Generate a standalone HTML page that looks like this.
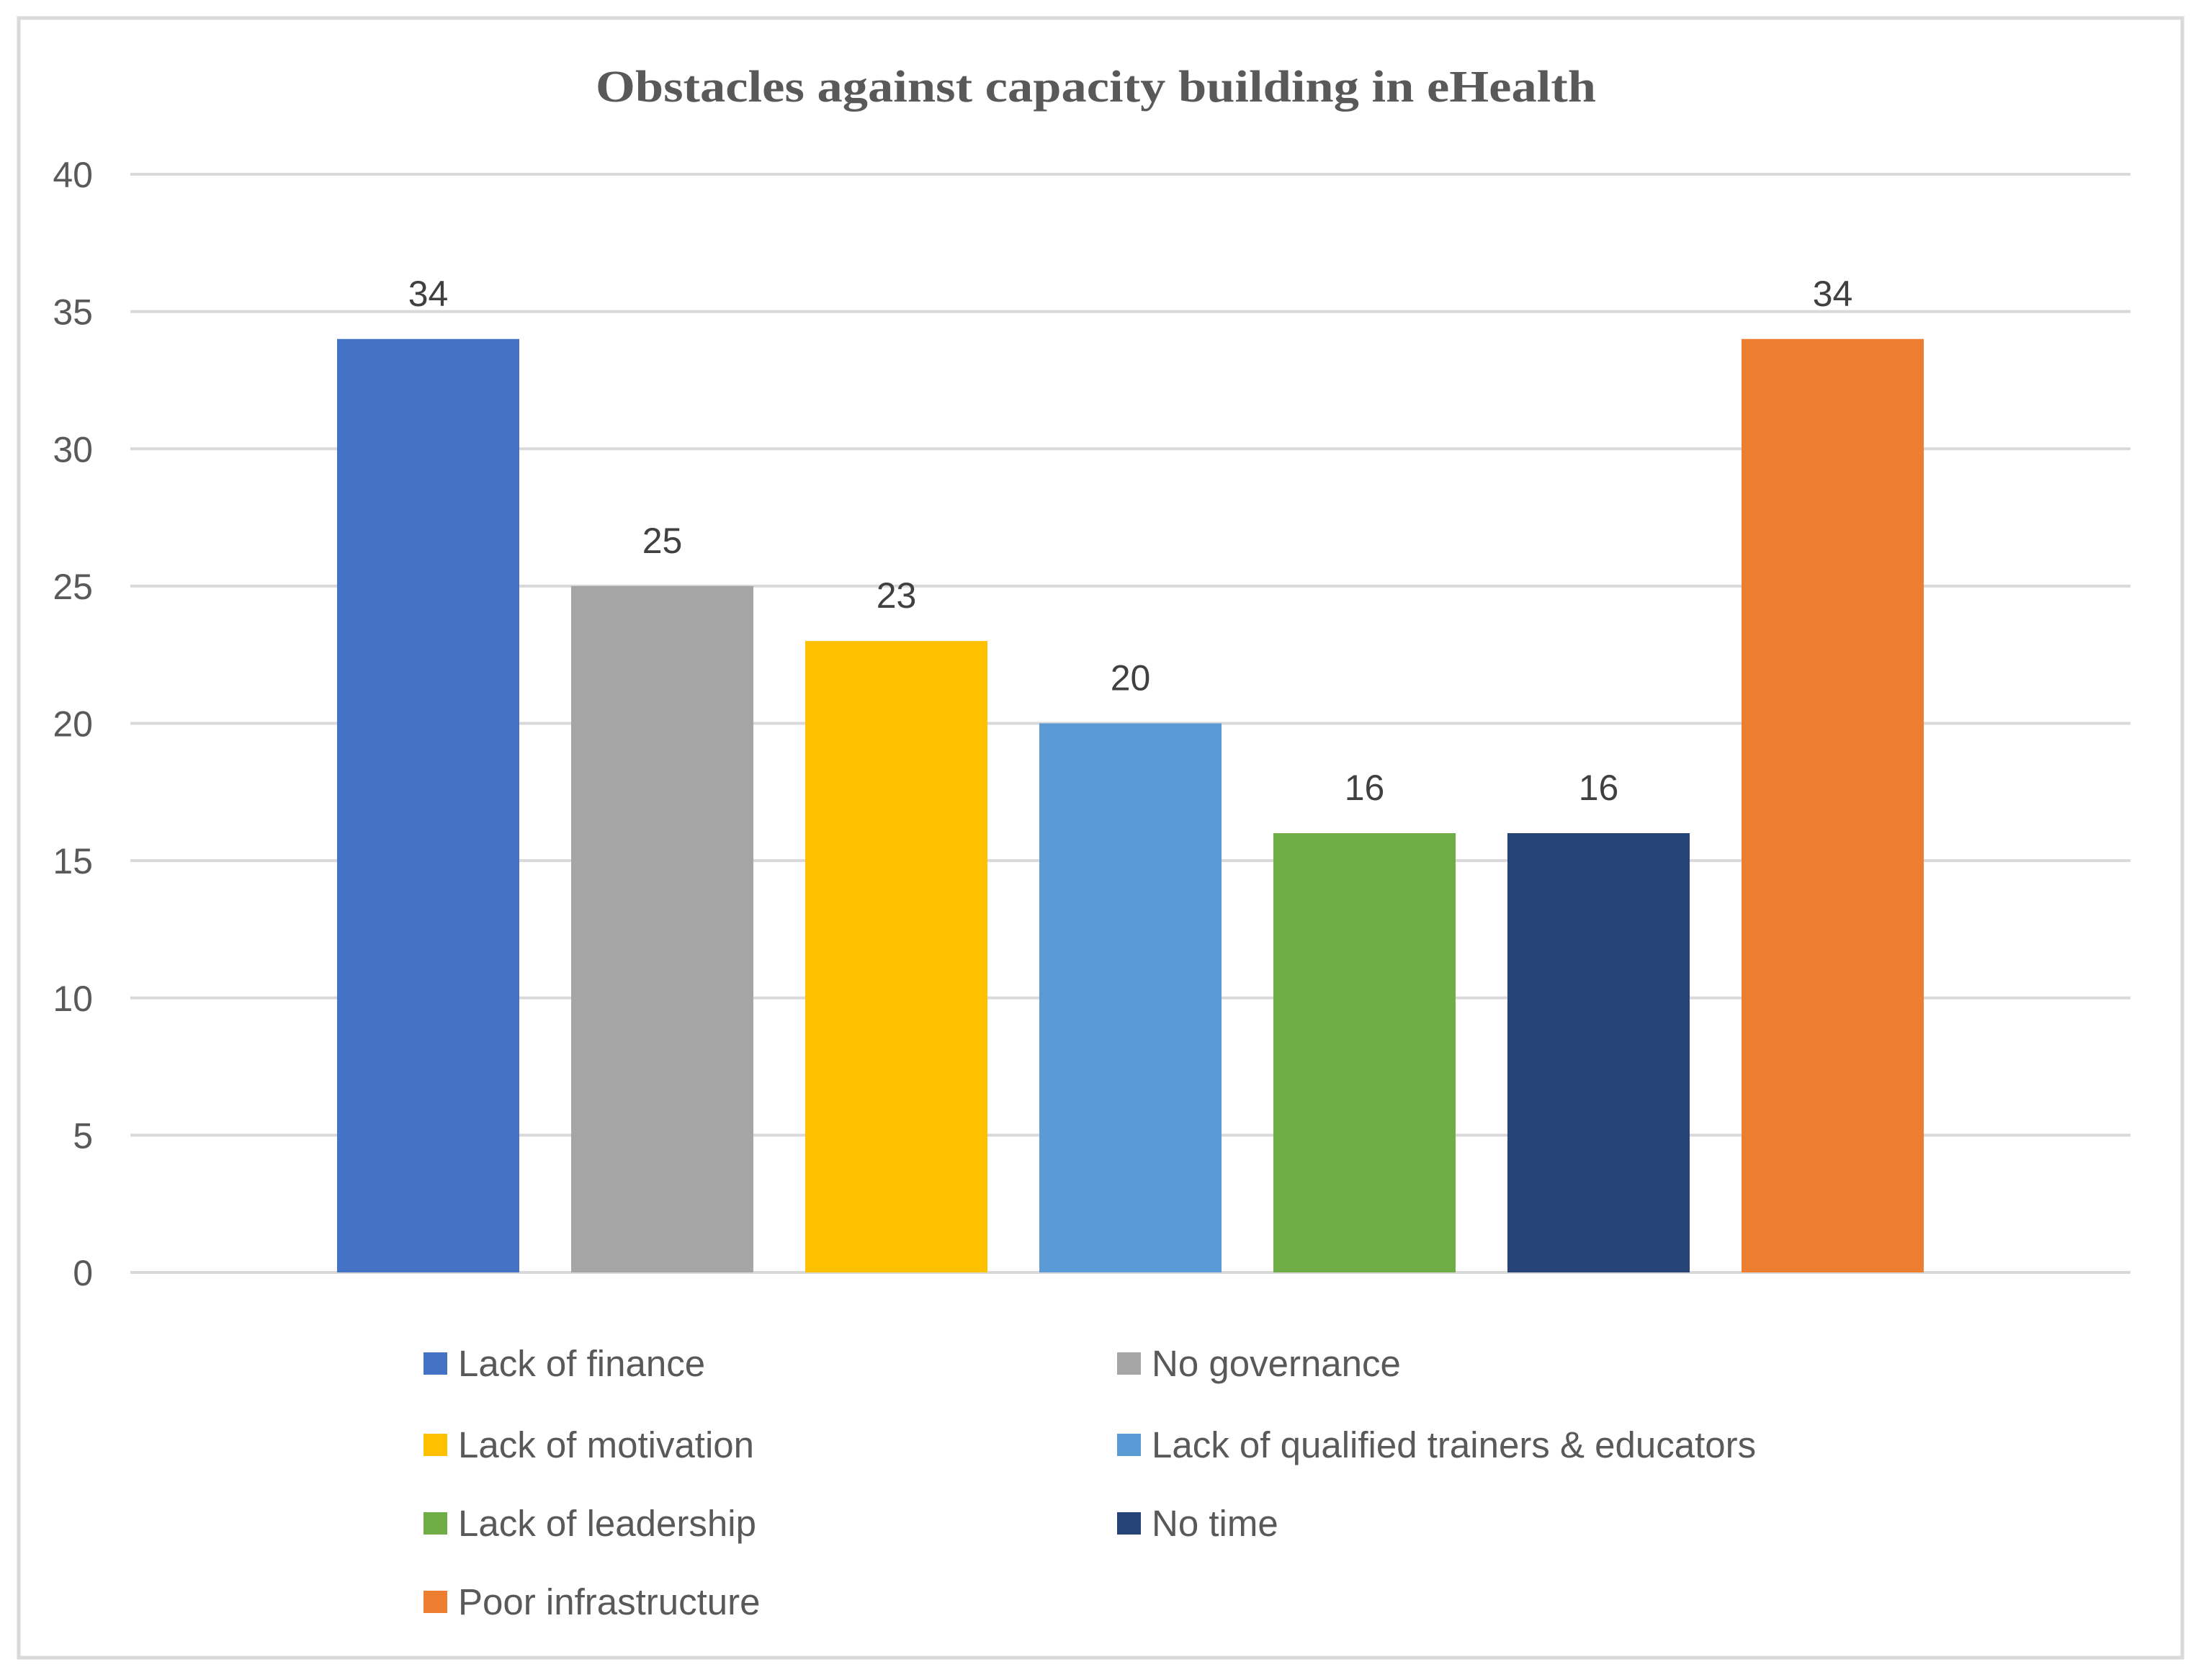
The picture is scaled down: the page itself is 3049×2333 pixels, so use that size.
<!DOCTYPE html>
<html><head><meta charset="utf-8">
<style>
html,body{margin:0;padding:0;background:#fff;}
svg{display:block;}
</style></head>
<body>
<svg id="chart" width="3049" height="2333" viewBox="0 0 3049 2333" xmlns="http://www.w3.org/2000/svg">
  <rect x="26" y="25" width="3004" height="2277" fill="#fff" stroke="#d9d9d9" stroke-width="5"/>
  <text x="827" y="141" textLength="1389" lengthAdjust="spacingAndGlyphs" font-family="Liberation Serif, serif" font-weight="bold" font-size="62" fill="#595959">Obstacles against capacity building in eHealth</text>
  <g id="grid"></g>
  <g id="bars"></g>
  <g id="labels"></g>
  <g id="legend"></g>
</svg>
<script>
const categories = ["Lack of finance","No governance","Lack of motivation","Lack of qualified trainers & educators","Lack of leadership","No time","Poor infrastructure"];
const values = [34,25,23,20,16,16,34];
const colors = ["#4472c4","#a5a5a5","#ffc000","#5b9bd5","#70ad47","#264478","#ed7d31"];
const yTicks = [0,5,10,15,20,25,30,35,40];

const NS = "http://www.w3.org/2000/svg";
const plotL = 181, plotR = 2958, y0 = 1767, y40 = 242, yMax = 40;
const FONT = '"Liberation Sans Narrow", "Liberation Sans", sans-serif';
function y(v){ return y0 - (v / yMax) * (y0 - y40); }
const step = 325, barW = 253, center = (plotL + plotR) / 2;
function xc(i){ return center + (i - (values.length - 1) / 2) * step; }
function mk(tag, attrs, parent){ const e = document.createElementNS(NS, tag); for (const k in attrs) e.setAttribute(k, attrs[k]); parent.appendChild(e); return e; }

const grid = document.getElementById('grid');
yTicks.forEach(t => {
  const l = mk('line', {x1: plotL, x2: plotR, y1: y(t), y2: y(t), stroke: '#d9d9d9', 'stroke-width': 4}, grid);
  
  
  const tx = mk('text', {x: 129, y: y(t) + 18, 'text-anchor': 'end', 'font-family': FONT, 'font-size': 50, fill: '#595959'}, grid);
  tx.textContent = t;
  
  
});

const bars = document.getElementById('bars');
const labels = document.getElementById('labels');
values.forEach((v, i) => {
  const r = mk('rect', {x: xc(i) - barW / 2, y: y(v), width: barW, height: y0 - y(v), fill: colors[i]}, bars);
  
  
  const t = mk('text', {x: xc(i), y: y(v) - 46, 'text-anchor': 'middle', 'font-family': FONT, 'font-size': 50, fill: '#404040'}, labels);
  t.textContent = v;
  
  
});

const legend = document.getElementById('legend');
const rowsY = [1893, 2006, 2115, 2224];
const colX = [588, 1551];
categories.forEach((c, i) => {
  const col = i % 2, row = Math.floor(i / 2);
  const g = mk('g', {}, legend);
  
  
  const sw = mk('rect', {x: colX[col], y: rowsY[row] - 15, width: 33, height: 31, fill: colors[i]}, g);
  
  
  const t = mk('text', {x: colX[col] + 48, y: rowsY[row] + 18, 'font-family': FONT, 'font-size': 51, fill: '#595959'}, g);
  t.textContent = c;
  
  
});
</script>
</body></html>
